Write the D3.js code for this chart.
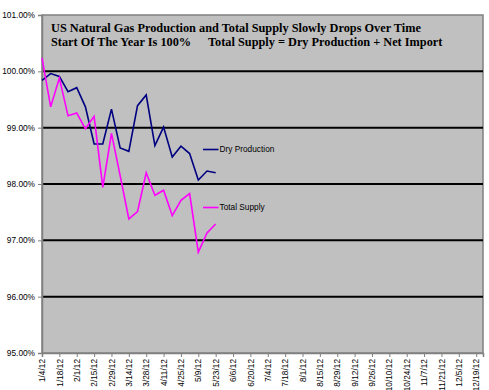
<!DOCTYPE html>
<html>
<head>
<meta charset="utf-8">
<script src="https://cdn.jsdelivr.net/npm/d3@7"></script>
<style>
  body { margin: 0; background: #fff; }
  svg { display: block; }
  .tick text { font-family: Arial, 'Liberation Sans', sans-serif; font-size: 8.3px; fill: #000; }
</style>
</head>
<body>
<figure style="margin:0"></figure>
<script>
const width = 489
const height = 390
const plot = { left: 42, right: 483, top: 15, bottom: 353 }

// weekly readings, start of the year = 100%
const weeks = ['1/4/12', '1/11/12', '1/18/12', '1/25/12', '2/1/12', '2/8/12', '2/15/12', '2/22/12',
  '2/29/12', '3/7/12', '3/14/12', '3/21/12', '3/28/12', '4/4/12', '4/11/12', '4/18/12', '4/25/12',
  '5/2/12', '5/9/12', '5/16/12', '5/23/12']
const dryProduction = [99.84, 99.96, 99.91, 99.64, 99.71, 99.37, 98.71, 98.71, 99.33, 98.64, 98.58,
  99.39, 99.58, 98.68, 99.01, 98.48, 98.67, 98.54, 98.07, 98.23, 98.20]
const totalSupply = [100.24, 99.37, 99.88, 99.21, 99.26, 98.98, 99.20, 97.94, 98.90, 98.15, 97.38,
  97.51, 98.20, 97.80, 97.89, 97.44, 97.71, 97.83, 96.79, 97.13, 97.29]

const tickLabels = ['1/4/12', '1/18/12', '2/1/12', '2/15/12', '2/29/12', '3/14/12', '3/28/12', '4/11/12',
  '4/25/12', '5/9/12', '5/23/12', '6/6/12', '6/20/12', '7/4/12', '7/18/12', '8/1/12', '8/15/12',
  '8/29/12', '9/12/12', '9/26/12', '10/10/12', '10/24/12', '11/7/12', '11/21/12', '12/5/12', '12/19/12']
const yTicks = [95, 96, 97, 98, 99, 100, 101]
const gridValues = [96, 97, 98, 99, 100]

const series = [
  { name: 'Dry Production', values: dryProduction, color: '#000080', legendY: 149.5 },
  { name: 'Total Supply', values: totalSupply, color: '#ff00ff', legendY: 207.5 }
]

const parse = d3.timeParse('%m/%d/%y')

const x = d3.scaleTime()
  .domain([parse('1/4/12'), new Date(2012, 11, 24, 12)])
  .range([plot.left, plot.right])
const y = d3.scaleLinear()
  .domain([95, 101])
  .range([plot.bottom, plot.top])

const svg = d3.select('figure').append('svg')
  .attr('width', width)
  .attr('height', height)

// plot area
svg.append('rect')
  .attr('x', plot.left)
  .attr('y', plot.top)
  .attr('width', plot.right - plot.left)
  .attr('height', plot.bottom - plot.top)
  .attr('fill', '#c0c0c0')
  .attr('stroke', '#808080')
  .attr('stroke-width', 1.5)

svg.append('g')
  .selectAll('line')
  .data(gridValues)
  .join('line')
  .attr('x1', plot.left)
  .attr('x2', plot.right)
  .attr('y1', d => y(d))
  .attr('y2', d => y(d))
  .attr('stroke', '#000')
  .attr('stroke-width', 2)

// axes
const yAxis = svg.append('g')
  .attr('transform', `translate(${plot.left},0)`)
  .call(d3.axisLeft(y).tickValues(yTicks).tickFormat(d => d.toFixed(2) + '%').tickSize(4).tickPadding(3))
yAxis.select('.domain').attr('stroke', '#808080').attr('stroke-width', 1.5)
yAxis.selectAll('.tick line').attr('stroke', '#808080')

const xAxis = svg.append('g')
  .attr('transform', `translate(0,${plot.bottom})`)
  .call(d3.axisBottom(x).tickValues(tickLabels.map(parse)).tickFormat(d3.timeFormat('%-m/%-d/%y')).tickSize(4))
xAxis.select('.domain').attr('stroke', '#808080').attr('stroke-width', 1.5)
xAxis.selectAll('.tick line').attr('stroke', '#808080')
xAxis.selectAll('.tick text')
  .attr('transform', 'rotate(-90)')
  .attr('x', -6)
  .attr('y', 0)
  .attr('dy', '0.32em')
  .attr('text-anchor', 'end')

// lines
const line = d3.line()
  .x((d, i) => x(parse(weeks[i])))
  .y(d => y(d))

svg.append('g')
  .selectAll('path')
  .data(series)
  .join('path')
  .attr('d', d => line(d.values))
  .attr('fill', 'none')
  .attr('stroke', d => d.color)
  .attr('stroke-width', 1.6)
  .attr('stroke-linejoin', 'miter')

// series labels
const legend = svg.append('g')
  .selectAll('g')
  .data(series)
  .join('g')
  .attr('transform', d => `translate(203,${d.legendY})`)
legend.append('line')
  .attr('x1', 0)
  .attr('x2', 15.5)
  .attr('stroke', d => d.color)
  .attr('stroke-width', 1.6)
legend.append('text')
  .attr('x', 16.5)
  .attr('dy', '0.35em')
  .style('font', '8.3px Arial, "Liberation Sans", sans-serif')
  .text(d => d.name)

// title
const title = svg.append('g')
  .style('font', 'bold 12.3px "Times New Roman", "Liberation Serif", serif')
title.append('text').attr('x', 51).attr('y', 32)
  .text('US Natural Gas Production and Total Supply Slowly Drops Over Time')
title.append('text').attr('x', 51).attr('y', 46)
  .text('Start Of The Year Is 100%')
title.append('text').attr('x', 208).attr('y', 46)
  .text('Total Supply = Dry Production + Net Import')
</script>
</body>
</html>
